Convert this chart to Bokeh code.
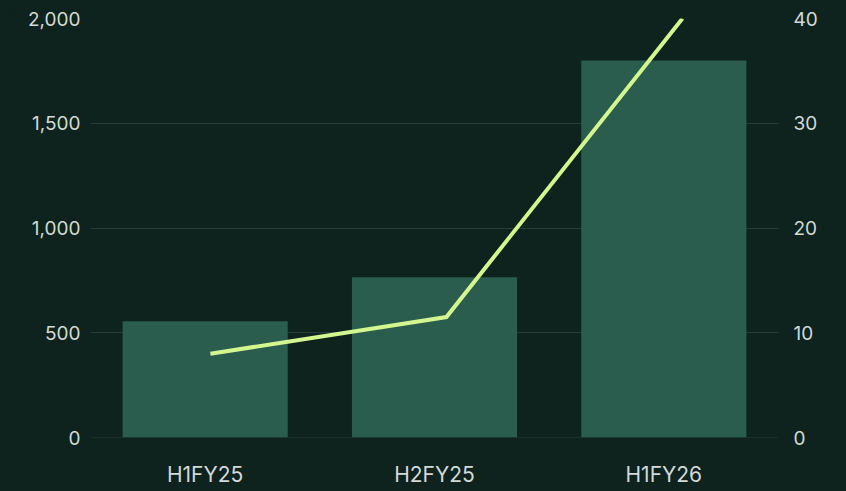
from bokeh.plotting import figure
from bokeh.models import (Range1d, LinearAxis, NumeralTickFormatter, FixedTicker, Span)
from bokeh.embed import file_html
from bokeh.resources import INLINE

# ---- data ----
categories = ["H1FY25", "H2FY25", "H1FY26"]
bar_values = [555, 765, 1800]
line_values = [8, 11.5, 40]
left_ticks = [0, 500, 1000, 1500, 2000]
right_ticks = [0, 10, 20, 30, 40]

BG = "#0e221e"
BAR = "#2a5d4e"
LINE = "#d3f68f"
GRID = "#2a3e39"
TXT = "#d3dad7"
FONT = "Inter"

pos = list(range(len(categories)))

p = figure(width=830, height=481, x_range=Range1d(-0.5, 2.5),
           y_range=Range1d(0, 2000), output_backend="svg",
           toolbar_location=None,
           min_border_left=82, min_border_right=60,
           min_border_top=10, min_border_bottom=52)
p.background_fill_color = BG
p.border_fill_color = BG
p.outline_line_color = None

p.extra_y_ranges = {"right": Range1d(0, 40)}
p.extra_x_ranges = {"line": Range1d(-0.508, 2.407)}

p.vbar(x=pos, top=bar_values, width=0.72, color=BAR, line_color=None)
p.add_layout(Span(location=0, dimension="width", line_color=GRID, line_width=1))
p.line(x=pos, y=line_values, x_range_name="line",
       y_range_name="right", line_color=LINE, line_width=4,
       line_join="miter", line_cap="butt")

# grid
p.xgrid.grid_line_color = None
p.ygrid.grid_line_color = GRID
p.ygrid.grid_line_width = 1

def style_axis(ax, size):
    ax.axis_line_color = None
    ax.major_tick_line_color = None
    ax.minor_tick_line_color = None
    ax.major_tick_out = 0
    ax.major_tick_in = 0
    ax.minor_tick_out = 0
    ax.major_label_text_color = TXT
    ax.major_label_text_font = FONT
    ax.major_label_text_font_size = size

# left axis
p.yaxis.ticker = FixedTicker(ticks=left_ticks)
p.yaxis.formatter = NumeralTickFormatter(format="0,0")
style_axis(p.yaxis[0], "19px")
p.yaxis.major_label_standoff = 10

# right axis
ra = LinearAxis(y_range_name="right", ticker=FixedTicker(ticks=right_ticks))
style_axis(ra, "19px")
ra.major_label_standoff = 15
p.add_layout(ra, "right")

# bottom axis
p.xaxis.ticker = FixedTicker(ticks=pos)
p.xaxis.major_label_overrides = {i: c for i, c in zip(pos, categories)}
style_axis(p.xaxis[0], "21px")
p.xaxis.major_label_standoff = 24

html = file_html(p, INLINE)
html = html.replace("<body>", '<body style="margin:8px 8px 0 8px;background-color:%s">' % BG)
open("out.html", "w").write(html)
